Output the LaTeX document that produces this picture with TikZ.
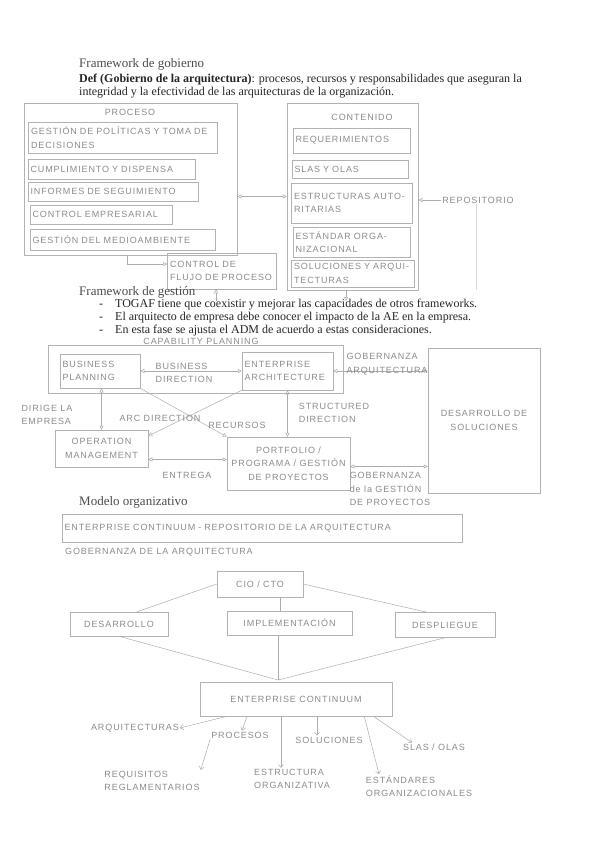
\documentclass[tikz,border=0pt]{standalone}
\usepackage{fontspec}
\setmainfont{Liberation Serif}
\newfontfamily\lapiz[LetterSpace=10]{Liberation Sans}
\usetikzlibrary{arrows.meta}
\tikzset{
  impreso/.style={inner sep=0pt, text=black!85, font=\fontsize{12}{13}\selectfont},
  titulo/.style={impreso, text=black!70, font=\fontsize{13}{15}\selectfont},
  mano/.style={inner sep=1pt, text=black!45, font=\lapiz\fontsize{9}{13.5}\selectfont, align=left},
  caja/.style={mano, draw=black!30, line width=.5pt, inner sep=2.5pt},
  flecha/.style={draw=black!32, line width=.5pt},
  punta/.style={flecha, -{Straight Barb[length=3pt,width=5pt]}},
}
\begin{document}
\begin{tikzpicture}[x=1pt,y=-1pt,>={Triangle[open,length=4pt,width=4pt]}]
\useasboundingbox[fill=white] (0,0) rectangle (595,848);

\node[titulo,anchor=west] (tgobierno) at (79,64) {Framework de gobierno};
\node[impreso,anchor=west] (def1) at (79,80) {\textbf{Def (Gobierno de la arquitectura)}: procesos, recursos y responsabilidades que aseguran la};
\node[impreso,anchor=west] (def2) at (79,93) {integridad y la efectividad de las arquitecturas de la organización.};

\node[caja,minimum width=213,minimum height=152] (proceso) at (130.5,179) {};
\node[mano] (tproceso) at (130,112) {PROCESO};
\node[caja,text width=184,minimum height=31] (politicas) at (123,137.5) {GESTIÓN DE POLÍTICAS Y TOMA DE\\DECISIONES};
\node[caja,text width=162,minimum height=20] (cumplimiento) at (111.5,169) {CUMPLIMIENTO Y DISPENSA};
\node[caja,text width=165,minimum height=19] (informes) at (113,191.5) {INFORMES DE SEGUIMIENTO};
\node[caja,text width=137,minimum height=19] (controlemp) at (101,214.5) {CONTROL EMPRESARIAL};
\node[caja,text width=180,minimum height=21] (medioamb) at (122.5,239.5) {GESTIÓN DEL MEDIOAMBIENTE};

\node[caja,minimum width=131,minimum height=187] (contenido) at (352.5,196.5) {};
\node[mano] (tcontenido) at (362,117) {CONTENIDO};
\node[caja,text width=112,minimum height=25] (requer) at (351.5,140.5) {REQUERIMIENTOS};
\node[caja,text width=111,minimum height=18] (slasolas) at (350,169) {SLAS Y OLAS};
\node[caja,text width=116,minimum height=40] (estructuras) at (352,203) {ESTRUCTURAS AUTO-\\RITARIAS};
\node[caja,text width=112,minimum height=30] (estandar) at (351.5,242) {ESTÁNDAR ORGA-\\NIZACIONAL};
\node[caja,text width=118,minimum height=27] (soluciones) at (353,273.5) {SOLUCIONES Y ARQUI-\\TECTURAS};

\draw[flecha,<->] (proceso.east |- contenido.west) -- (contenido.west);
\node[mano] (repositorio) at (478,200) {REPOSITORIO};
\draw[flecha,->] (repositorio.west) -- (contenido.east |- repositorio.west);
\coordinate (repobajo) at (476,290);
\draw[flecha,draw=black!15] (repositorio.south -| repobajo) -- (repobajo);

\node[caja,text width=104,minimum height=36] (flujo) at (222,271) {CONTROL DE\\FLUJO DE PROCESO};
\draw[flecha,->] ([xshift=-3pt]proceso.south) |- ([yshift=7pt]flujo.west);
\coordinate (flujobajo) at (216,301);
\draw[flecha,->] (flujobajo) -- (flujobajo |- flujo.south);
\coordinate (contbajo) at (346,301);
\draw[flecha,->] (contenido.south -| contbajo) -- (contbajo);

\node[titulo,anchor=west] (tgestion) at (79,292) {Framework de gestión};
\node[impreso,anchor=west] (punto1) at (99,305) {\makebox[16pt][l]{-}TOGAF tiene que coexistir y mejorar las capacidades de otros frameworks.};
\node[impreso,anchor=west] (punto2) at (99,318) {\makebox[16pt][l]{-}El arquitecto de empresa debe conocer el impacto de la AE en la empresa.};
\node[impreso,anchor=west] (punto3) at (99,331) {\makebox[16pt][l]{-}En esta fase se ajusta el ADM de acuerdo a estas consideraciones.};

\node[caja,minimum width=295,minimum height=48] (capability) at (195.5,369) {};
\node[mano] (tcapability) at (201,341) {CAPABILITY PLANNING};
\node[caja,text width=75,minimum height=34] (business) at (100,371) {BUSINESS\\PLANNING};
\node[caja,text width=86,minimum height=38] (enterprise) at (287.5,371) {ENTERPRISE\\ARCHITECTURE};
\node[caja,align=center,minimum width=112,minimum height=145] (desarrollo) at (484,420.5) {DESARROLLO DE\\SOLUCIONES};
\node[caja,align=center,minimum width=93,minimum height=37] (operation) at (101.5,448.5) {OPERATION\\MANAGEMENT};
\node[caja,align=center,minimum width=123,minimum height=53] (portfolio) at (288.5,463.5) {PORTFOLIO /\\PROGRAMA / GESTIÓN\\DE PROYECTOS};

\draw[flecha,<->] (business.east) -- (enterprise.west);
\node[mano] (busdir) at (184,373) {BUSINESS\\DIRECTION};
\draw[flecha,<->] (enterprise.east) -- (enterprise.east -| desarrollo.west);
\node[mano] (gobarq) at (387,364) {GOBERNANZA\\ARQUITECTURA};
\draw[flecha,<->] (business.south -| operation.north) -- (operation.north);
\node[mano] (dirige) at (47,415) {DIRIGE LA\\EMPRESA};
\draw[flecha,<->] (enterprise.south) -- (enterprise.south |- portfolio.north);
\node[mano] (strdir) at (334,413) {STRUCTURED\\DIRECTION};
\draw[flecha,->] (business.south east) -- (portfolio.north west);
\draw[flecha,->] (enterprise.south west) -- (operation.15);
\node[mano] (arcdir) at (160,418) {ARC DIRECTION};
\node[mano] (recursos) at (237,425) {RECURSOS};
\draw[flecha,<->] ([yshift=-11pt]operation.east) -- ([yshift=-11pt]operation.east -| portfolio.west);
\node[mano] (entrega) at (187,475) {ENTREGA};
\draw[flecha,<->] ([yshift=-3pt]portfolio.east) -- ([yshift=-3pt]portfolio.east -| desarrollo.west);
\node[mano] (gobgest) at (390,489) {GOBERNANZA\\de la GESTIÓN\\DE PROYECTOS};

\node[titulo,anchor=west] (tmodelo) at (79,502) {Modelo organizativo};
\node[caja,text width=395,minimum height=28] (repoarq) at (262,528) {ENTERPRISE CONTINUUM - REPOSITORIO DE LA ARQUITECTURA};
\node[mano,anchor=west] (gobernanza) at (64,552) {GOBERNANZA DE LA ARQUITECTURA};
\node[caja,align=center,minimum width=86,minimum height=26] (cio) at (260,584) {CIO / CTO};
\node[caja,align=center,minimum width=98,minimum height=24] (desa) at (119,624) {DESARROLLO};
\node[caja,align=center,minimum width=125,minimum height=24] (impl) at (289.5,623) {IMPLEMENTACIÓN};
\node[caja,align=center,minimum width=100,minimum height=25] (desp) at (445,625) {DESPLIEGUE};
\node[caja,align=center,minimum width=192,minimum height=34] (continuum) at (296,699) {ENTERPRISE CONTINUUM};
\coordinate (union) at (278,680);
\draw[flecha] (cio.west) -- ([xshift=18pt]desa.north);
\draw[flecha] ([xshift=20pt]cio.south) -- ([xshift=20pt]cio.south |- impl.north);
\draw[flecha] (cio.east) -- ([xshift=-18pt]desp.north);
\draw[flecha] (desa.south) -- (union);
\draw[flecha] (impl.south -| union) -- (union);
\draw[flecha] (desp.south) -- (union);

\node[mano] (arquitecturas) at (135,728) {ARQUITECTURAS};
\node[mano] (procesos) at (240,735) {PROCESOS};
\node[mano] (solucs) at (329,740) {SOLUCIONES};
\node[mano] (slas) at (434,747) {SLAS / OLAS};
\node[mano] (requisitos) at (152,781) {REQUISITOS\\REGLAMENTARIOS};
\node[mano] (estructura) at (292,779) {ESTRUCTURA\\ORGANIZATIVA};
\node[mano] (estandares) at (419,786) {ESTÁNDARES\\ORGANIZACIONALES};
\draw[punta] ([xshift=-69pt]continuum.south) -- (arquitecturas.east);
\draw[punta] ([xshift=-49pt]continuum.south) -- ([xshift=2pt]procesos.north);
\draw[punta] ([xshift=-15pt]continuum.south) -- ([xshift=-15pt]continuum.south |- estructura.north);
\draw[punta] ([xshift=21pt]continuum.south) -- ([xshift=-12pt]solucs.north);
\draw[punta] ([xshift=-19pt]continuum.south east) -- ([xshift=-22pt]slas.north);
\draw[punta] ([xshift=-28pt]continuum.south east) -- ([xshift=-40pt]estandares.north);
\draw[punta] (procesos.south west) -- (requisitos.north east);
\end{tikzpicture}
\end{document}
